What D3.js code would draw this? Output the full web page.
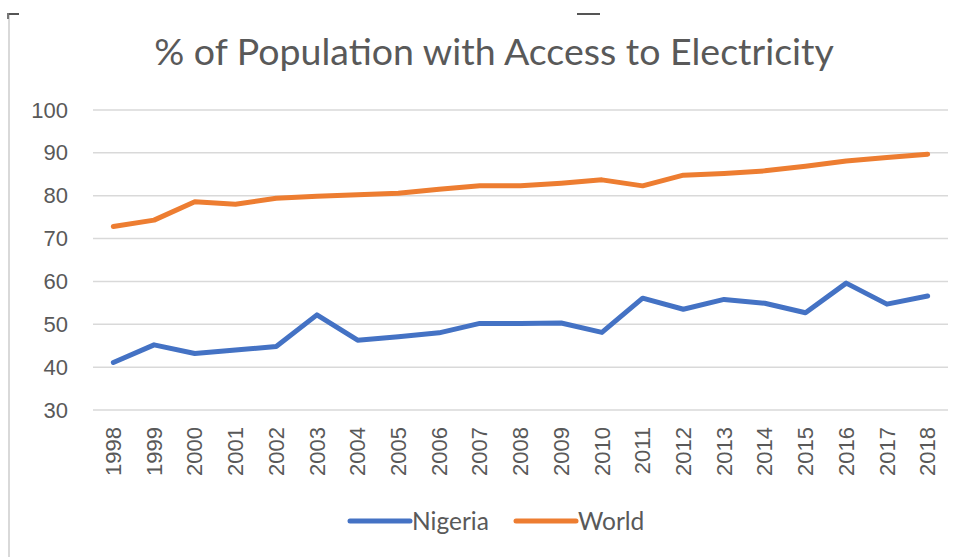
<!DOCTYPE html>
<html>
<head>
    <meta charset="utf-8">
    <title>% of Population with Access to Electricity</title>
    <script src="https://d3js.org/d3.v7.min.js"></script>
    <style>
        body { margin: 0; background: #fff; }
        text { fill: #595959; }
    </style>
</head>
<body>
    <svg width="970" height="557"></svg>

    <script>
        var years = ["1998", "1999", "2000", "2001", "2002", "2003", "2004", "2005", "2006", "2007",
            "2008", "2009", "2010", "2011", "2012", "2013", "2014", "2015", "2016", "2017", "2018"];
        var nigeria = [41.1, 45.2, 43.2, 44.0, 44.8, 52.2, 46.3, 47.1, 48.0, 50.2,
            50.2, 50.3, 48.1, 56.1, 53.5, 55.8, 54.9, 52.7, 59.6, 54.7, 56.6];
        var world = [72.8, 74.3, 78.6, 78.0, 79.4, 79.9, 80.2, 80.6, 81.5, 82.3,
            82.3, 82.9, 83.7, 82.3, 84.8, 85.2, 85.8, 86.9, 88.1, 88.9, 89.7];
        var yTicks = [30, 40, 50, 60, 70, 80, 90, 100];

        var series = [
            { name: "Nigeria", values: nigeria, color: "#4472C4" },
            { name: "World", values: world, color: "#ED7D31" }
        ];

        var svg = d3.select("svg");

        // chart-area border (left edge) and selection handles
        svg.append("line")
            .attr("x1", 9).attr("x2", 9)
            .attr("y1", 13).attr("y2", 557)
            .attr("stroke", "#d9d9d9")
            .attr("stroke-width", 2);
        svg.append("rect").attr("x", 7).attr("y", 13).attr("width", 12).attr("height", 2).attr("fill", "#555");
        svg.append("rect").attr("x", 7).attr("y", 13).attr("width", 2).attr("height", 6).attr("fill", "#777");
        svg.append("rect").attr("x", 577).attr("y", 13).attr("width", 23).attr("height", 2).attr("fill", "#555");

        var x = d3.scaleBand()
            .domain(years)
            .range([93, 948]);

        var y = d3.scaleLinear()
            .domain([30, 100])
            .range([410, 110]);

        // gridlines
        svg.append("g")
            .selectAll("line")
            .data(yTicks)
            .enter().append("line")
            .attr("x1", x.range()[0])
            .attr("x2", x.range()[1])
            .attr("y1", function(d) { return y(d); })
            .attr("y2", function(d) { return y(d); })
            .attr("stroke", "#d9d9d9")
            .attr("stroke-width", 1.5);

        // y axis labels
        var yAxis = svg.append("g")
            .attr("transform", "translate(80,0)")
            .call(d3.axisLeft(y).tickValues(yTicks).tickSize(0).tickPadding(12));
        yAxis.select(".domain").remove();
        yAxis.selectAll("text")
            .attr("font-family", "Liberation Sans, Arial, sans-serif")
            .attr("font-size", "22px")
            .attr("fill", "#505050");

        // x axis labels
        var xAxis = svg.append("g")
            .attr("transform", "translate(0,410)")
            .call(d3.axisBottom(x).tickSize(0));
        xAxis.select(".domain").remove();
        xAxis.selectAll("text")
            .attr("font-family", "Liberation Sans, Arial, sans-serif")
            .attr("font-size", "22px")
            .attr("fill", "#505050")
            .attr("text-anchor", "end")
            .attr("transform", "rotate(-90)")
            .attr("x", -17)
            .attr("y", 0)
            .attr("dy", "0.35em");

        var line = d3.line()
            .x(function(d, i) { return x(years[i]) + x.bandwidth() / 2; })
            .y(function(d) { return y(d); });

        svg.append("g")
            .selectAll("path")
            .data(series)
            .enter().append("path")
            .attr("fill", "none")
            .attr("stroke", function(d) { return d.color; })
            .attr("stroke-width", 5)
            .attr("stroke-linejoin", "round")
            .attr("stroke-linecap", "round")
            .attr("d", function(d) { return line(d.values); });

        // title
        svg.append("text")
            .attr("x", 494)
            .attr("y", 65)
            .attr("text-anchor", "middle")
            .attr("font-family", "Lato, Open Sans, sans-serif")
            .attr("font-size", "37.5px")
            .attr("fill", "#505050")
            .text("% of Population with Access to Electricity");

        // legend
        var legendX = [350, 516];
        var legend = svg.append("g")
            .selectAll("g")
            .data(series)
            .enter().append("g")
            .attr("transform", function(d, i) { return "translate(" + legendX[i] + ",521)"; });

        legend.append("line")
            .attr("x1", 0).attr("x2", 60)
            .attr("stroke", function(d) { return d.color; })
            .attr("stroke-width", 5)
            .attr("stroke-linecap", "round");

        legend.append("text")
            .attr("x", 62)
            .attr("dy", "0.35em")
            .attr("font-family", "Lato, Open Sans, sans-serif")
            .attr("font-size", "24.5px")
            .attr("fill", "#505050")
            .text(function(d) { return d.name; });
    </script>
</body>
</html>
